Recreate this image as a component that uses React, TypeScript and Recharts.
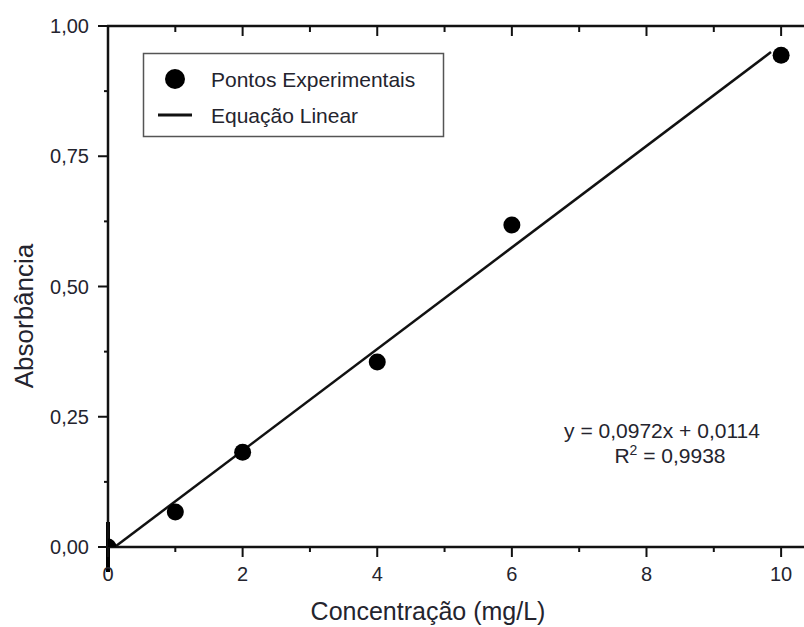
import React from "react"
import {
  ComposedChart,
  Scatter,
  Line,
  XAxis,
  YAxis,
  ReferenceLine,
} from "recharts"

// valores
const concentracoes = [0, 1, 2, 4, 6, 10]
const absorbancias = [0, 0.067, 0.182, 0.355, 0.618, 0.944]

// extremos da reta desenhada
const retaX = [0.1, 9.85]
const retaY = [0, 0.95]

// barra vertical na origem
const barraOrigem = [-0.048, 0.048]

const xTicks = [0, 1, 2, 3, 4, 5, 6, 7, 8, 9, 10]
const yTicks = [0, 0.125, 0.25, 0.375, 0.5, 0.625, 0.75, 0.875, 1]

const pontos = concentracoes.map((x, i) => ({ x, y: absorbancias[i] }))
const reta = retaX.map((x, i) => ({ x, y: retaY[i] }))

const FONT = "Liberation Sans, Arial, sans-serif"
const TEXT = "#24242e"
const X_MAX = 10.34

// área de plotagem
const W = 804
const H = 627
const LEFT = 108
const TOP = 26

const fmt = (v: number) => v.toFixed(2).replace(".", ",")

function BottomTick(props: any) {
  const { x, y, payload } = props
  const major = payload.value % 2 === 0
  return (
    <g>
      <line x1={x} y1={y} x2={x} y2={y + (major ? 10 : 5)} stroke="#111" strokeWidth={2} />
      {major && (
        <text x={x} y={y + 34} textAnchor="middle" fontSize={20} fontFamily={FONT} fill={TEXT}>
          {payload.value}
        </text>
      )}
    </g>
  )
}

function LeftTick(props: any) {
  const { x, y, payload } = props
  const major = Math.abs(payload.value * 4 - Math.round(payload.value * 4)) < 1e-6
  return (
    <g>
      <line x1={x - (major ? 10 : 4)} y1={y} x2={x} y2={y} stroke="#111" strokeWidth={2} />
      {major && (
        <text x={x - 19} y={y + 7} textAnchor="end" fontSize={20} fontFamily={FONT} fill={TEXT}>
          {fmt(payload.value)}
        </text>
      )}
    </g>
  )
}

const Dot = (props: any) => <circle cx={props.cx} cy={props.cy} r={8.5} fill="#000" />

export default function App() {
  return (
    <div style={{ position: "absolute", left: 0, top: 0, width: W, height: H, background: "#fff" }}>
      <ComposedChart
        width={W}
        height={H}
        margin={{ top: TOP, right: 0, bottom: 40, left: 48 }}
      >
        <XAxis
          dataKey="x"
          type="number"
          domain={[0, X_MAX]}
          allowDataOverflow
          ticks={xTicks}
          height={40}
          tickSize={0}
          tickMargin={0}
          tickLine={false}
          tick={<BottomTick />}
          axisLine={{ stroke: "#111", strokeWidth: 2.5 }}
        />
        <YAxis
          type="number"
          domain={[0, 1]}
          allowDataOverflow
          ticks={yTicks}
          width={60}
          tickSize={0}
          tickMargin={0}
          tickLine={false}
          tick={<LeftTick />}
          axisLine={{ stroke: "#111", strokeWidth: 2.5 }}
        />
        <ReferenceLine
          segment={[
            { x: 0, y: barraOrigem[0] },
            { x: 0, y: barraOrigem[1] },
          ]}
          stroke="#000"
          strokeWidth={4}
          ifOverflow="visible"
        />
        <Line
          data={reta}
          dataKey="y"
          stroke="#111"
          strokeWidth={2.5}
          dot={false}
          isAnimationActive={false}
        />
        <Scatter data={pontos} dataKey="y" shape={<Dot />} isAnimationActive={false} />
      </ComposedChart>

      <svg
        width={W}
        height={H}
        style={{ position: "absolute", left: 0, top: 0, pointerEvents: "none" }}
        fontFamily={FONT}
      >
        {/* moldura superior, marcas para dentro */}
        <line x1={LEFT - 1} y1={TOP} x2={W} y2={TOP} stroke="#111" strokeWidth={2.5} />
        {xTicks.map((v) => {
          const px = LEFT + (v * (W - LEFT)) / X_MAX
          return (
            <line
              key={v}
              x1={px}
              y1={TOP}
              x2={px}
              y2={TOP + (v % 2 === 0 ? 10 : 6)}
              stroke="#111"
              strokeWidth={2}
            />
          )
        })}

        {/* legenda */}
        <rect x={143.5} y={53.5} width={300} height={83} fill="#fff" stroke="#555" strokeWidth={1.5} />
        <circle cx={175} cy={79} r={10} fill="#000" />
        <text x={211} y={87} fontSize={21} fill={TEXT}>Pontos Experimentais</text>
        <line x1={158} y1={115} x2={192} y2={115} stroke="#111" strokeWidth={3} />
        <text x={211} y={123} fontSize={21} fill={TEXT}>Equação Linear</text>

        {/* equação */}
        <text x={662} y={438} fontSize={21} textAnchor="middle" fill={TEXT}>
          y = 0,0972x + 0,0114
        </text>
        <text x={670} y={463} fontSize={21} textAnchor="middle" fill={TEXT}>
          R<tspan dy={-8} fontSize={14}>2</tspan>
          <tspan dy={8}> = 0,9938</tspan>
        </text>

        {/* títulos dos eixos */}
        <text x={428} y={620} fontSize={25} textAnchor="middle" fill={TEXT}>
          Concentração (mg/L)
        </text>
        <text
          x={0}
          y={0}
          fontSize={26}
          textAnchor="middle"
          fill={TEXT}
          transform="translate(33,316) rotate(-90)"
        >
          Absorbância
        </text>
      </svg>
    </div>
  )
}
